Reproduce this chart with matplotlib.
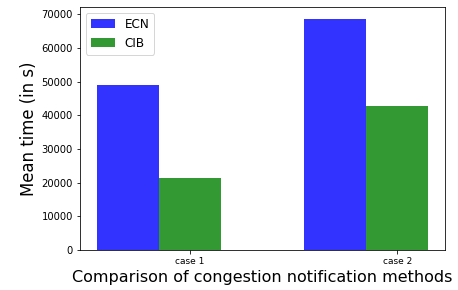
import matplotlib
matplotlib.use("Agg")
import matplotlib.pyplot as plt
import numpy as np

cases = ["case 1", "case 2"]
ecn = [48900, 68700]
cib = [21300, 42600]
series_labels = ["ECN", "CIB"]

bar_width = 0.3
r1 = np.arange(len(cases))
r2 = r1 + bar_width

fig = plt.figure(figsize=(458/72, 290/72), dpi=72)
ax = fig.add_axes([80/458, 1-250/290, (445-80)/458, (250-7)/290])
ax.bar(r1, ecn, width=bar_width, color="b", alpha=0.8, label=series_labels[0])
ax.bar(r2, cib, width=bar_width, color="g", alpha=0.8, label=series_labels[1])
ax.set_xticks(r2)
ax.set_xticklabels(cases, fontsize=9)
ax.tick_params(axis="y", labelsize=10)
ax.set_ylabel("Mean time (in s)", fontsize=16.5)
ax.set_xlabel("Comparison of congestion notification methods", fontsize=16)
ax.legend(loc="upper left", fontsize=12)
fig.savefig("out.png", dpi=72)
